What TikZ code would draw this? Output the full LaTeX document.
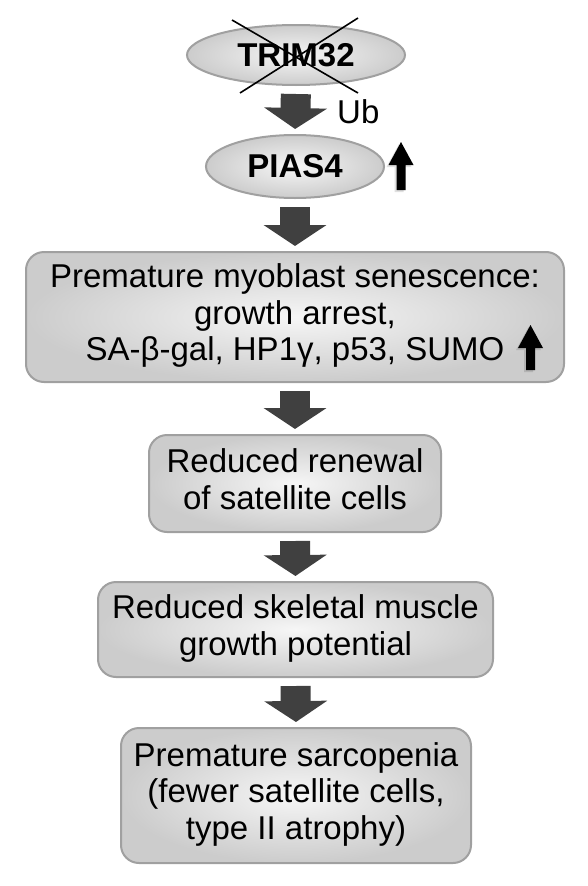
\documentclass[tikz,border=0pt]{standalone}
\usepackage{fontspec}
\setmainfont{Liberation Sans}
\usetikzlibrary{arrows.meta,shapes.geometric}
\definecolor{arrowgray}{HTML}{404040}
\definecolor{edgegray}{HTML}{A0A0A0}
\definecolor{fillin}{HTML}{F6F6F6}
\definecolor{fillout}{HTML}{CCCCCC}
\begin{document}
\begin{tikzpicture}[x=1pt,y=-1pt,
  bigfont/.style={font=\fontsize{33}{36.5}\selectfont},
  ellbox/.style={ellipse, draw=edgegray, line width=2pt, inner color=fillin, outer color=fillout, inner sep=0pt, bigfont},
  stepbox/.style={rectangle, draw=edgegray, line width=2pt, rounded corners=18pt, inner color=fillin, outer color=fillout, align=center, inner sep=0pt, bigfont},
  bigarrow/.style={draw=arrowgray, line width=30pt, -{Triangle[width=62pt,length=21pt]}, shorten <=8pt, shorten >=5pt},
  crossline/.style={draw=black, line width=1.6pt},
  uparrow/.style={fill=black}
]
\useasboundingbox (0,0) rectangle (587,886);
\fill[white] (0,0) rectangle (587,886);

% nodes
\node[ellbox, minimum width=218pt, minimum height=60pt] (trim) at (296,55) {\bfseries TRIM32};
\node[ellbox, minimum width=178pt, minimum height=63pt] (pias) at (295,166.5) {\bfseries PIAS4};
\node[stepbox, minimum width=538pt, minimum height=130pt] (sen) at (295,317)
  {\strut Premature myoblast senescence:\\ \strut growth arrest,\\ \strut SA-β-gal, HP1γ, p53, SUMO};
\node[stepbox, minimum width=292pt, minimum height=97pt] (ren) at (295,483.5)
  {\strut Reduced renewal\\ \strut of satellite cells};
\node[stepbox, minimum width=395pt, minimum height=95pt] (skel) at (295.5,629.5)
  {\strut Reduced skeletal muscle\\ \strut growth potential};
\node[stepbox, minimum width=350pt, minimum height=135pt] (sarc) at (296,795.5)
  {\strut Premature sarcopenia\\ \strut (fewer satellite cells,\\ \strut type II atrophy)};
\node[bigfont, anchor=base west, inner sep=0pt] (ub) at (337,123) {Ub};

% cross over TRIM32
\draw[crossline] (232,20) -- (358,93);
\draw[crossline] (358,18) -- (240,93);

% block arrows
\draw[bigarrow] (trim.south) -- (pias.north);
\draw[bigarrow] (pias.south) -- (sen.north);
\draw[bigarrow] (sen.south) -- (ren.north);
\draw[bigarrow] (ren.south) -- (skel.north);
\draw[bigarrow] (skel.south) -- (sarc.north);

% up arrows
\fill[black, opacity=0.12] (399,144) -- (411.5,167) -- (403.5,167) -- (403.5,192) -- (394.5,192) -- (394.5,167) -- (386.5,167) -- cycle;
\fill[uparrow] (401,142) -- (413.5,165) -- (405.5,165) -- (405.5,190) -- (396.5,190) -- (396.5,165) -- (388.5,165) -- cycle;
\fill[black, opacity=0.12] (528.5,327) -- (541,350) -- (533,350) -- (533,372) -- (524,372) -- (524,350) -- (516,350) -- cycle;
\fill[uparrow] (530.5,325) -- (543,348) -- (535,348) -- (535,370) -- (526,370) -- (526,348) -- (518,348) -- cycle;
\end{tikzpicture}
\end{document}
